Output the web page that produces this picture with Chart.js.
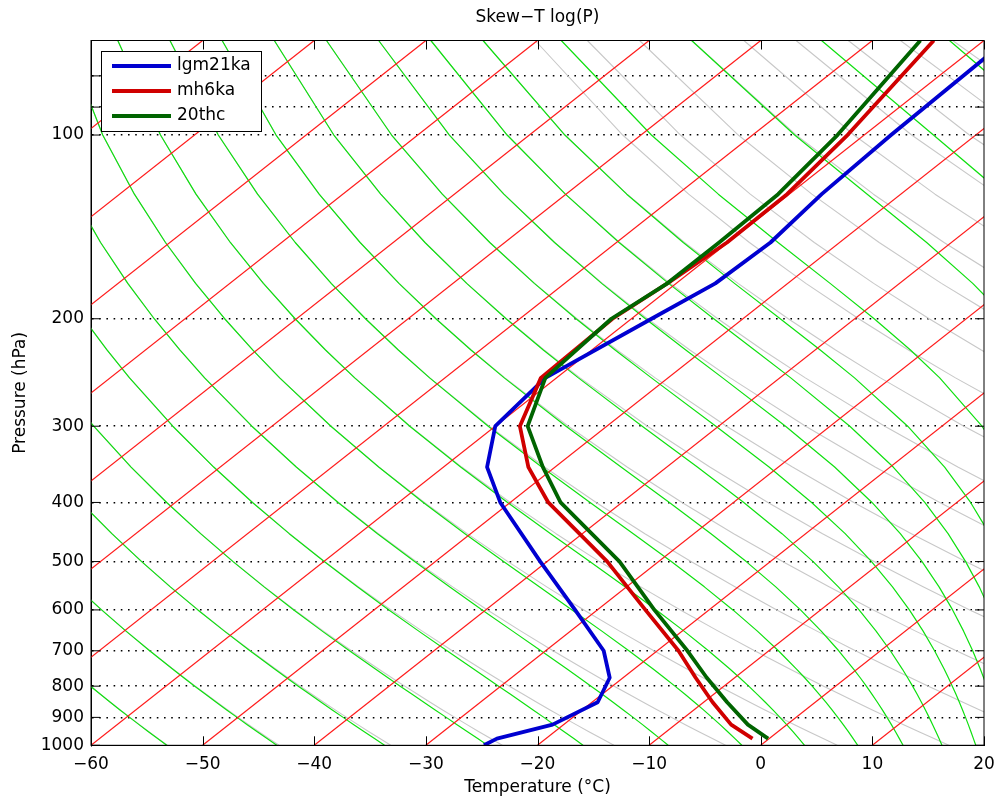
<!DOCTYPE html>
<html>
<head>
<meta charset="utf-8">
<title>Skew-T log(P)</title>
<script src="https://cdn.jsdelivr.net/npm/chart.js@4/dist/chart.umd.min.js"></script>
<style>
  html, body { margin: 0; padding: 0; background: #ffffff; }
  #wrap { width: 1000px; height: 806px; }
</style>
</head>
<body>
<div id="wrap"><canvas id="skewt" width="1000" height="806"></canvas></div>
<script>
// ---- Profiles: pressure levels (hPa) and temperatures (°C) ----
const LEVELS   = [1000, 975, 925, 850, 775, 700, 600, 500, 400, 350, 300, 250, 200, 175, 150, 125, 100, 70];
const LGM21KA  = [-24.8, -24.4, -21.0, -19.5, -21.2, -24.8, -32.0, -40.6, -50.9, -56.1, -60.0, -61.0, -58.2, -56.5, -56.2, -57.1, -57.6, -58.0];
const MH6KA    = [null, -1.5, -5.0, -9.2, -13.5, -18.1, -25.7, -34.6, -46.6, -52.4, -57.8, -61.4, -61.7, -60.8, -60.1, -60.2, -61.5, -64.5];
const C20THC   = [null, -0.1, -3.5, -7.9, -12.5, -17.3, -24.9, -33.5, -45.5, -51.1, -57.1, -61.0, -61.8, -60.8, -60.8, -61.0, -62.4, -65.7];
const SERIES_NAMES  = ['lgm21ka', 'mh6ka', '20thc'];
const SERIES_COLORS = ['#0000d0', '#d00000', '#006400'];

// ---- Axes ----
const T_MIN = -60, T_MAX = 20;           // temperature at the 1000 hPa base
const P_TOP = 70, P_BASE = 1000;
const TEMP_TICKS = [-60, -50, -40, -30, -20, -10, 0, 10, 20];
const PRESSURE_TICKS = [80, 90, 100, 200, 300, 400, 500, 600, 700, 800, 900, 1000];
const PRESSURE_LABELS = [100, 200, 300, 400, 500, 600, 700, 800, 900, 1000];

// ---- Background line families ----
const ISOTHERMS = [-140, -130, -120, -110, -100, -90, -80, -70, -60, -50, -40, -30, -20, -10, 0, 10];
const DRY_THETA = [220, 230, 240, 250, 260, 270, 280, 290, 300, 310, 320, 330, 340, 350, 360, 370, 380, 390, 400, 410, 420, 430, 440, 450];
const MOIST_THETA_E = [220, 230, 240, 250, 260, 270, 280, 290, 300, 310, 320, 330, 340, 350, 360, 375, 400, 425, 450];
const CURVE_LEVELS = [1000, 975, 950, 925, 900, 875, 850, 825, 800, 775, 750, 700, 650, 600, 550, 500, 450, 400, 350, 300, 250, 225, 200, 175, 150, 125, 100, 70];

// Isotherms lean so that the base-left corner isotherm reaches the top-right corner
const SKEW = (T_MAX - T_MIN) / Math.log10(P_BASE / P_TOP);
const skewX = (t, p) => t + SKEW * Math.log10(P_BASE / p);

// Thermodynamics
const KAPPA = 0.286, LV = 2.5e6, CP = 1004, T0 = 273.15;
function satMixRatio(tK, p) {
  const tc = tK - T0;
  const es = 6.112 * Math.exp(17.67 * tc / (tc + 243.5));
  if (es >= 0.9 * p) return 10;
  return 0.622 * es / (p - es);
}
function thetaE(tK, p) {
  const th = tK * Math.pow(P_BASE / p, KAPPA);
  return th * Math.exp(LV * satMixRatio(tK, p) / (CP * tK));
}
function tempOnMoistAdiabat(the, p) {
  let lo = 120, hi = 340;
  for (let i = 0; i < 60; i++) {
    const mid = 0.5 * (lo + hi);
    if (thetaE(mid, p) > the) hi = mid; else lo = mid;
  }
  return 0.5 * (lo + hi) - T0;
}

const bgDatasets = [];
DRY_THETA.forEach(th => bgDatasets.push({
  data: CURVE_LEVELS.map(p => ({ x: skewX(th * Math.pow(p / P_BASE, KAPPA) - T0, p), y: p })),
  borderColor: '#c8c8c8', borderWidth: 1.1, order: 30
}));
MOIST_THETA_E.forEach(te => bgDatasets.push({
  data: CURVE_LEVELS.map(p => ({ x: skewX(tempOnMoistAdiabat(te, p), p), y: p })),
  borderColor: '#10e010', borderWidth: 1.2, order: 20
}));
ISOTHERMS.forEach(t => bgDatasets.push({
  data: [P_BASE, P_TOP].map(p => ({ x: skewX(t, p), y: p })),
  borderColor: '#ff1a1a', borderWidth: 1.2, order: 10
}));

const profiles = [LGM21KA, MH6KA, C20THC].map((temps, i) => ({
  label: SERIES_NAMES[i],
  data: LEVELS.map((p, k) => temps[k] === null ? null : { x: skewX(temps[k], p), y: p }).filter(d => d),
  borderColor: SERIES_COLORS[i],
  borderWidth: 3.8,
  order: 3 - i
}));

const FONT = 'DejaVu Sans';

// Frame and inward tick marks
const framePlugin = {
  id: 'frame',
  afterDatasetsDraw(chart) {
    const { ctx, chartArea: a, scales: { x, y } } = chart;
    ctx.save();
    ctx.strokeStyle = '#000';
    ctx.lineWidth = 1;
    ctx.beginPath();
    TEMP_TICKS.forEach(v => {
      const px = Math.round(x.getPixelForValue(v)) + 0.5;
      ctx.moveTo(px, a.bottom); ctx.lineTo(px, a.bottom - 9);
      ctx.moveTo(px, a.top); ctx.lineTo(px, a.top + 9);
    });
    PRESSURE_TICKS.forEach(v => {
      const py = y.getPixelForValue(v);
      ctx.moveTo(a.left, py); ctx.lineTo(a.left + 9, py);
      ctx.moveTo(a.right, py); ctx.lineTo(a.right - 9, py);
    });
    ctx.stroke();
    ctx.strokeRect(a.left, a.top, a.right - a.left, a.bottom - a.top);
    ctx.restore();
  }
};

// Boxed legend inside the plot
const legendPlugin = {
  id: 'boxLegend',
  afterDraw(chart) {
    const { ctx, chartArea: a } = chart;
    const bx = a.left + 10, by = a.top + 10.5, bw = 160, bh = 80;
    ctx.save();
    ctx.fillStyle = '#fff';
    ctx.fillRect(bx, by, bw, bh);
    ctx.strokeStyle = '#000';
    ctx.lineWidth = 1;
    ctx.strokeRect(bx + 0.5, by + 0.5, bw, bh);
    ctx.font = '17px "' + FONT + '"';
    ctx.textBaseline = 'middle';
    ctx.textAlign = 'left';
    SERIES_NAMES.forEach((name, i) => {
      const ly = by + 15 + i * 25;
      ctx.strokeStyle = SERIES_COLORS[i];
      ctx.lineWidth = 3.8;
      ctx.beginPath();
      ctx.moveTo(bx + 11, ly); ctx.lineTo(bx + 70, ly);
      ctx.stroke();
      ctx.fillStyle = '#000';
      ctx.fillText(name, bx + 76, ly);
    });
    ctx.restore();
  }
};

new Chart(document.getElementById('skewt'), {
  type: 'scatter',
  data: { datasets: [...bgDatasets, ...profiles] },
  options: {
    responsive: false,
    devicePixelRatio: 1,
    animation: false,
    events: [],
    showLine: true,
    elements: { point: { radius: 0 }, line: { tension: 0, borderCapStyle: 'butt', borderJoinStyle: 'round' } },
    layout: { padding: { left: 0, right: 16, top: 0, bottom: 0 } },
    plugins: {
      legend: { display: false },
      tooltip: { enabled: false },
      title: {
        display: true,
        text: 'Skew\u2212T log(P)',
        color: '#000',
        fullSize: false,
        font: { family: FONT, size: 17, weight: 'normal' },
        padding: { top: 7.5, bottom: 12.6 }
      }
    },
    scales: {
      x: {
        type: 'linear',
        min: T_MIN, max: T_MAX,
        afterFit: s => { s.height = 60.7; s.paddingLeft = 0; s.paddingRight = 0; },
        afterBuildTicks: s => { s.ticks = TEMP_TICKS.map(v => ({ value: v })); },
        ticks: {
          color: '#000', padding: 9, autoSkip: false, maxRotation: 0,
          font: { family: FONT, size: 17 },
          callback: v => (v < 0 ? '\u2212' + Math.abs(v) : String(v))
        },
        grid: { display: false, drawTicks: false },
        border: { display: true, color: '#000', width: 1 },
        title: {
          display: true, text: 'Temperature (\u00B0C)', color: '#000',
          font: { family: FONT, size: 17 }, padding: { top: 0, bottom: 8 }
        }
      },
      y: {
        type: 'logarithmic',
        reverse: true,
        min: P_TOP, max: P_BASE,
        afterFit: s => { s.width = 91; },
        afterBuildTicks: s => { s.ticks = PRESSURE_TICKS.map(v => ({ value: v })); },
        ticks: {
          color: '#000', padding: 7, autoSkip: false,
          font: { family: FONT, size: 17 },
          callback: v => (PRESSURE_LABELS.includes(v) ? String(v) : '')
        },
        grid: {
          drawTicks: false,
          lineWidth: 1.6,
          color: c => (c.tick && c.tick.value === P_BASE ? 'rgba(0,0,0,0)' : '#000')
        },
        border: { display: true, color: '#000', width: 1, dash: [1.6, 5.6] },
        title: {
          display: true, text: 'Pressure (hPa)', color: '#000',
          font: { family: FONT, size: 17 }, padding: { top: 10.5 }
        }
      }
    }
  },
  plugins: [framePlugin, legendPlugin]
});
</script>
</body>
</html>
